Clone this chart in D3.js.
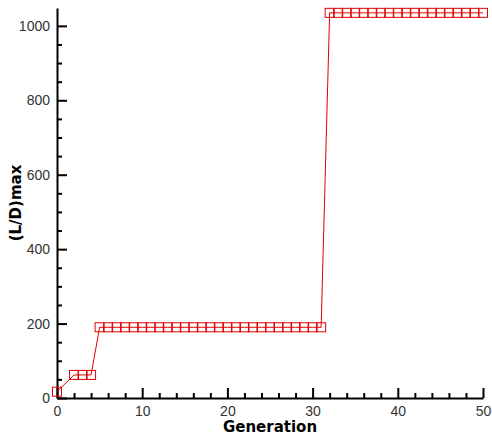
<!DOCTYPE html>
<html><head><meta charset="utf-8">
<script src="https://cdn.jsdelivr.net/npm/d3@7"></script>
<style>body{margin:0;background:#fff}svg{display:block}
.tl text{font-family:"Liberation Sans",Arial,sans-serif;font-size:14px;fill:#333}</style>
</head><body><svg id="c" width="492" height="438"></svg>
<script>
const generations = [0,2,3,4,5,6,7,8,9,10,11,12,13,14,15,16,17,18,19,20,21,22,23,24,25,26,27,28,29,30,31,32,33,34,35,36,37,38,39,40,41,42,43,44,45,46,47,48,49,50];
const ldMax = [17,62,62,62,190,190,190,190,190,190,190,190,190,190,190,190,190,190,190,190,190,190,190,190,190,190,190,190,190,190,190,1035,1035,1035,1035,1035,1035,1035,1035,1035,1035,1035,1035,1035,1035,1035,1035,1035,1035,1035];
const xMajor = [0,10,20,30,40,50];
const yMajor = [0,200,400,600,800,1000];
const xTitle = "Generation", yTitle = "(L/D)max";

const svg = d3.select("#c");
const x = d3.scaleLinear().domain([0,50]).range([57,483]);
const y = d3.scaleLinear().domain([0,1048]).range([398,8]);
const red = "#e00000";

// minor ticks
const xMinor = d3.range(0,51,2).filter(v=>v%10!==0);
const yMinor = d3.range(0,1048,50).filter(v=>v%200!==0);
svg.append("g").attr("transform",`translate(0,${y(0)})`)
  .call(d3.axisBottom(x).tickValues(xMinor).tickSizeInner(-5).tickSizeOuter(0).tickFormat(""))
  .call(g=>{g.select(".domain").remove();g.selectAll("line").attr("stroke","#000").attr("stroke-width",2);});
svg.append("g").attr("transform",`translate(${x(0)},0)`)
  .call(d3.axisLeft(y).tickValues(yMinor).tickSizeInner(-5).tickSizeOuter(0).tickFormat(""))
  .call(g=>{g.select(".domain").remove();g.selectAll("line").attr("stroke","#000").attr("stroke-width",2);});

// major axes
const gx = svg.append("g").attr("class","tl").attr("transform",`translate(0,${y(0)})`)
  .call(d3.axisBottom(x).tickValues(xMajor).tickFormat(d3.format("d")).tickSizeInner(-10).tickSizeOuter(0).tickPadding(8));
const gy = svg.append("g").attr("class","tl").attr("transform",`translate(${x(0)},0)`)
  .call(d3.axisLeft(y).tickValues(yMajor).tickFormat(d3.format("d")).tickSizeInner(-10).tickSizeOuter(0).tickPadding(7));
[gx,gy].forEach(g=>{
  g.attr("font-family",null).attr("font-size",null);
  g.select(".domain").attr("stroke","#000").attr("stroke-width",2);
  g.selectAll("line").attr("stroke","#000").attr("stroke-width",2);
});

// line
const pts = generations.map((g,i)=>[g, ldMax[i]]);
svg.append("path").datum(pts)
  .attr("fill","none").attr("stroke",red).attr("stroke-width",1)
  .attr("d", d3.line().x(d=>x(d[0])).y(d=>y(d[1])));

// markers
const s = 9;
svg.append("g").selectAll("rect").data(pts).join("rect")
  .attr("x",d=>x(d[0])-s/2).attr("y",d=>y(d[1])-s/2)
  .attr("width",s).attr("height",s)
  .attr("fill","none").attr("stroke",red).attr("stroke-width",1);

// titles
svg.append("text").attr("x",270).attr("y",432).attr("text-anchor","middle")
  .attr("font-family","DejaVu Sans, Verdana, sans-serif").attr("font-weight","bold").attr("font-size",15)
  .attr("fill","#000").text(xTitle);
svg.append("text").attr("transform","translate(21,203) rotate(-90)").attr("text-anchor","middle")
  .attr("font-family","DejaVu Sans, Verdana, sans-serif").attr("font-weight","bold").attr("font-size",15)
  .attr("fill","#000").text(yTitle);
</script></body></html>
